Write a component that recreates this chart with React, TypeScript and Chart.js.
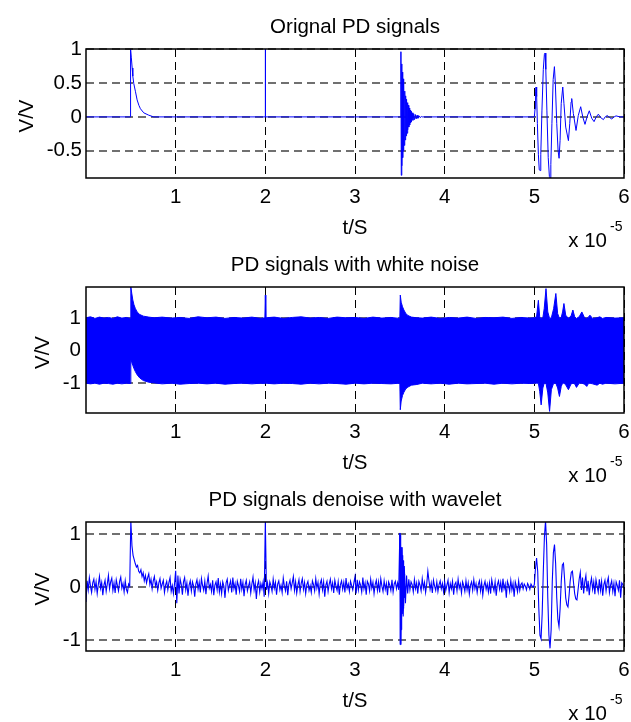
import React, { useEffect, useRef } from 'react';
import Chart from 'chart.js/auto';

// ---------- shared axis data ----------
const xTicks = [1, 2, 3, 4, 5, 6];
const xMin = 0;
const xMax = 6;

// ---------- panel 1: original PD signals [t (x1e-5 s), V] ----------
const origYTicks = [-0.5, 0, 0.5, 1];
const origYRange = [-0.9, 1.0];
const origDecay = [
  [0, 0], [0.494, 0], [0.497, 1.0], [0.505, 0.88], [0.515, 0.72], [0.522, 0.6], [0.533, 0.49],
  [0.552, 0.37], [0.57, 0.25], [0.59, 0.17], [0.607, 0.12], [0.644, 0.06], [0.7, 0.025], [0.755, 0],
];
const origSpike2 = [[1.999, 0], [2.0, 1.0], [2.002, 0]];
const origBurst35 = [
  [3.508, 0], [3.512, 0.96], [3.516, -0.86], [3.52, 0.78], [3.524, -0.72], [3.528, 0.66], [3.532, -0.6],
  [3.536, 0.56], [3.54, -0.5], [3.545, 0.46], [3.55, -0.42], [3.555, 0.38], [3.56, -0.34], [3.565, 0.31],
  [3.57, -0.28], [3.575, 0.26], [3.58, -0.24], [3.585, 0.21], [3.59, -0.19], [3.595, 0.17], [3.6, -0.15],
  [3.605, 0.13], [3.61, -0.12], [3.615, 0.1], [3.62, -0.09], [3.625, 0.08], [3.63, -0.07], [3.638, 0.06],
  [3.646, -0.05], [3.655, 0.045], [3.664, -0.04], [3.673, 0.035], [3.682, -0.03], [3.692, 0.025],
  [3.702, -0.02], [3.714, 0.015], [3.726, -0.01], [3.74, 0.005], [3.75, 0],
];
const origBurst50 = [
  [5.0, 0], [5.008, 0.12], [5.014, 0.38], [5.019, 0.44], [5.026, 0.3], [5.034, -0.1], [5.045, -0.55],
  [5.055, -0.78], [5.064, -0.79], [5.072, -0.55], [5.085, 0.1], [5.1, 0.7], [5.112, 0.92], [5.12, 0.94],
  [5.128, 0.7], [5.14, 0.1], [5.155, -0.6], [5.168, -0.88], [5.175, -0.9], [5.184, -0.7], [5.196, -0.1],
  [5.21, 0.55], [5.224, 0.74], [5.234, 0.5], [5.25, -0.1], [5.265, -0.5], [5.276, -0.61], [5.287, -0.35],
  [5.3, 0.2], [5.317, 0.44], [5.33, 0.2], [5.35, -0.15], [5.38, -0.35], [5.395, -0.1], [5.41, 0.22],
  [5.417, 0.27], [5.435, 0.05], [5.465, -0.2], [5.49, 0.02], [5.517, 0.15], [5.54, 0.0], [5.565, -0.11],
  [5.59, 0.01], [5.613, 0.09], [5.64, -0.02], [5.666, -0.07], [5.69, 0], [5.714, 0.04], [5.74, -0.01],
  [5.77, -0.04], [5.79, 0], [5.814, 0.02], [5.84, -0.01], [5.863, -0.03], [5.89, 0], [5.911, 0.015],
  [5.955, 0], [6.0, 0],
];

// ---------- panel 2: PD signals with white noise, envelope [t, upper, lower] ----------
const noisyYTicks = [-1, 0, 1];
const noisyYRange = [-1.92, 1.97];
const noisyBand = [
  [0, 1.02, -1.0], [0.05, 1.05, -1.02], [0.1, 1.0, -1.0], [0.15, 1.04, -1.03], [0.2, 1.01, -1.0],
  [0.25, 1.03, -1.01], [0.3, 1.0, -1.03], [0.35, 1.05, -1.0], [0.4, 1.01, -1.02], [0.45, 1.03, -1.0],
  [0.495, 1.0, -1.01], [0.5, 1.97, -0.28], [0.51, 1.78, -0.36], [0.522, 1.57, -0.45], [0.535, 1.42, -0.55],
  [0.55, 1.31, -0.64], [0.57, 1.2, -0.74], [0.6, 1.12, -0.84], [0.64, 1.07, -0.92], [0.7, 1.04, -0.97],
  [0.76, 1.02, -0.99], [0.85, 1.04, -1.02], [0.95, 1.01, -1.0], [1.05, 1.03, -1.03], [1.15, 1.0, -1.01],
  [1.25, 1.05, -1.0], [1.35, 1.02, -1.02], [1.45, 1.04, -1.0], [1.55, 1.0, -1.03], [1.65, 1.03, -1.01],
  [1.75, 1.01, -1.0], [1.85, 1.04, -1.02], [1.95, 1.0, -1.0], [1.995, 1.02, -1.01], [2.0, 1.72, -1.0],
  [2.005, 1.02, -1.0], [2.1, 1.04, -1.02], [2.2, 1.0, -1.0], [2.3, 1.03, -1.01], [2.4, 1.05, -1.03],
  [2.5, 1.01, -1.0], [2.6, 1.03, -1.02], [2.7, 1.0, -1.0], [2.8, 1.04, -1.01], [2.9, 1.02, -1.03],
  [3.0, 1.03, -1.0], [3.1, 1.0, -1.02], [3.2, 1.04, -1.0], [3.3, 1.01, -1.01], [3.4, 1.03, -1.02],
  [3.5, 1.0, -1.0], [3.505, 1.72, -1.82], [3.515, 1.5, -1.55], [3.53, 1.36, -1.38], [3.545, 1.26, -1.28],
  [3.565, 1.16, -1.18], [3.59, 1.09, -1.12], [3.63, 1.04, -1.06], [3.69, 1.02, -1.04], [3.75, 1.01, -1.0],
  [3.85, 1.04, -1.02], [3.95, 1.0, -1.0], [4.05, 1.03, -1.03], [4.15, 1.01, -1.0], [4.25, 1.04, -1.02],
  [4.35, 1.0, -1.01], [4.45, 1.03, -1.0], [4.55, 1.02, -1.03], [4.65, 1.04, -1.0], [4.75, 1.0, -1.02],
  [4.85, 1.03, -1.0], [4.95, 1.01, -1.01],
  [5.0, 1.02, -1.0], [5.025, 1.05, -1.0], [5.045, 1.56, -1.0], [5.06, 1.05, -1.25], [5.076, 1.0, -1.67],
  [5.095, 1.02, -1.15], [5.11, 1.3, -1.0], [5.13, 1.92, -1.0], [5.15, 1.2, -1.3], [5.17, 1.0, -1.87],
  [5.19, 1.02, -1.2], [5.215, 1.3, -1.0], [5.24, 1.77, -1.0], [5.26, 1.15, -1.15], [5.28, 1.0, -1.41],
  [5.3, 1.03, -1.1], [5.315, 1.2, -1.0], [5.33, 1.46, -1.0], [5.35, 1.1, -1.05], [5.38, 1.0, -1.2],
  [5.41, 1.08, -1.02], [5.43, 1.26, -1.0], [5.45, 1.05, -1.02], [5.47, 1.0, -1.13], [5.5, 1.05, -1.0],
  [5.53, 1.2, -1.0], [5.56, 1.02, -1.03], [5.585, 1.0, -1.1], [5.6, 1.03, -1.02], [5.62, 1.1, -1.0],
  [5.65, 1.0, -1.02], [5.7, 1.02, -1.06], [5.73, 1.05, -1.0], [5.76, 1.0, -1.03], [5.8, 1.03, -1.0],
  [5.9, 1.01, -1.02], [6.0, 1.02, -1.0],
];

// ---------- panel 3: PD signals denoised with wavelet (sampled every 0.0125) ----------
const denoiseYTicks = [-1, 0, 1];
const denoiseYRange = [-1.2, 1.226];
const denoiseStep = 0.0125;
const denoisedV = [
  // 0.0 - 0.4875
  -0.28, 0.12, -0.05, 0.18, 0.02, -0.1, 0.08, 0.15, -0.04, 0.1, -0.12, 0.05, 0.2, -0.02, 0.09, -0.15, 0.04, 0.13, -0.08, 0.06,
  0.22, -0.03, 0.1, 0.17, -0.06, 0.08, -0.11, 0.14, 0.03, -0.07, 0.11, 0.19, -0.02, 0.07, -0.09, 0.12, -0.04, -0.1, 0.06, 0.02,
  // 0.5 - 0.9875
  1.25, 0.78, 0.6, 0.52, 0.44, 0.38, 0.41, 0.3, 0.27, 0.33, 0.2, 0.27, 0.12, 0.22, 0.08, 0.18, 0.25, 0.05, 0.15, -0.03,
  0.12, 0.2, 0.02, 0.1, -0.06, 0.08, 0.16, -0.02, 0.06, 0.13, -0.1, 0.04, 0.11, -0.05, 0.09, 0.18, -0.08, 0.03, -0.12, 0.07,
  // 1.0 - 1.4875
  0.31, -0.3, 0.22, -0.12, 0.15, 0.05, -0.14, 0.1, 0.18, -0.05, 0.08, -0.16, 0.04, 0.12, -0.07, 0.1, 0.02, -0.18, 0.06, 0.14,
  -0.04, 0.09, -0.1, 0.16, 0.03, -0.06, 0.11, -0.13, 0.07, 0.21, -0.02, 0.05, -0.08, 0.13, -0.15, 0.04, 0.1, -0.05, 0.17, -0.09,
  // 1.5 - 1.9875
  0.06, -0.12, 0.1, 0.02, -0.2, 0.08, 0.15, -0.06, 0.04, 0.12, -0.1, 0.18, -0.03, 0.07, -0.14, 0.11, 0.03, -0.08, 0.16, -0.04,
  0.09, -0.17, 0.05, 0.13, -0.07, 0.02, 0.1, -0.11, 0.06, 0.19, -0.05, 0.08, -0.22, 0.04, 0.12, -0.09, 0.07, -0.03, 0.1, -0.18,
  // 2.0 - 2.4875
  1.25, -0.05, 0.08, -0.12, 0.1, 0.03, -0.08, 0.15, -0.02, 0.09, -0.14, 0.06, 0.12, -0.05, 0.04, -0.1, 0.17, 0.02, -0.07, 0.11,
  -0.15, 0.05, 0.13, -0.03, 0.08, 0.2, -0.06, 0.1, -0.11, 0.04, 0.14, -0.08, 0.07, 0.16, -0.04, 0.09, -0.12, 0.05, 0.11, -0.06,
  // 2.5 - 2.9875
  0.03, -0.1, 0.12, 0.05, -0.07, 0.16, -0.02, 0.09, -0.13, 0.07, 0.14, -0.05, 0.1, -0.18, 0.04, 0.11, -0.08, 0.06, 0.15, -0.03,
  0.08, -0.11, 0.13, 0.02, -0.06, 0.1, -0.14, 0.05, 0.12, -0.04, 0.09, -0.1, 0.17, -0.02, 0.06, -0.08, 0.11, 0.03, -0.05, 0.08,
  // 3.0 - 3.4875
  0.2, -0.12, 0.14, -0.05, 0.1, 0.04, -0.09, 0.18, -0.03, 0.08, -0.14, 0.11, 0.06, -0.07, 0.15, -0.02, 0.09, -0.12, 0.05, 0.13,
  -0.06, 0.1, -0.1, 0.16, 0.02, -0.08, 0.12, -0.04, 0.07, -0.15, 0.1, 0.04, -0.06, 0.14, -0.09, 0.06, 0.11, -0.03, 0.08, -0.05,
  // 3.5 - 3.9875
  1.02, -1.08, 0.75, -0.55, 0.4, -0.3, 0.22, -0.12, 0.15, -0.05, 0.1, 0.05, -0.09, 0.14, -0.03, 0.08, -0.12, 0.11, 0.04, -0.07,
  0.16, -0.02, 0.09, -0.1, 0.06, 0.3, 0.12, -0.04, 0.08, -0.11, 0.13, 0.02, -0.06, 0.1, -0.08, 0.05, 0.12, -0.03, 0.07, -0.09,
  // 4.0 - 4.4875
  0.1, -0.06, 0.04, 0.13, -0.1, 0.07, -0.03, 0.11, -0.14, 0.05, 0.09, -0.07, 0.15, -0.02, 0.06, -0.11, 0.1, 0.03, -0.08, 0.12,
  -0.05, 0.08, -0.13, 0.04, 0.1, -0.06, 0.14, -0.03, 0.07, -0.1, 0.05, 0.12, -0.07, 0.09, -0.15, 0.03, 0.11, -0.04, 0.06, -0.09,
  // 4.5 - 4.9875
  0.08, -0.12, 0.14, 0.02, -0.07, 0.1, -0.16, 0.05, 0.12, -0.04, 0.09, -0.1, 0.16, -0.03, 0.06, -0.2, 0.11, 0.04, -0.08, 0.13,
  -0.05, 0.07, -0.18, 0.1, 0.02, -0.09, 0.12, -0.06, 0.05, 0.08, -0.03, 0.06, 0.02, -0.05, 0.07, 0.03, -0.04, 0.06, 0.02, 0.0,
  // 5.0 - 5.4875
  0.05, 0.35, 0.55, 0.3, -0.4, -0.9, -0.97, -0.5, 0.3, 0.95, 1.25, 0.8, -0.2, -0.9, -1.15, -0.8, 0.1, 0.65, 0.8, 0.45,
  -0.2, -0.6, -0.74, -0.4, 0.1, 0.42, 0.45, 0.15, -0.2, -0.33, -0.37, -0.15, 0.12, 0.28, 0.3, 0.08, -0.12, -0.22, -0.24, -0.05,
  // 5.5 - 6.0
  0.15, 0.28, -0.05, 0.18, -0.12, 0.1, 0.22, -0.08, 0.12, -0.15, 0.06, 0.17, -0.04, 0.1, -0.13, 0.14, 0.02, -0.09, 0.15, -0.06,
  0.11, -0.16, 0.05, 0.13, -0.07, 0.09, 0.18, -0.1, 0.04, 0.12, -0.08, 0.07, -0.17, 0.1, 0.03, -0.06, 0.13, -0.2, 0.08, 0.05,
  -0.02,
];
// finer detail of the burst at 3.5 in the denoised trace [t, V]
const denoiseBurst35 = [
  [3.499, 0.0], [3.501, 1.02], [3.503, -1.08], [3.505, 0.98], [3.507, -1.05], [3.509, 0.9], [3.511, -0.95],
  [3.513, 0.85], [3.515, -0.8], [3.518, 0.75], [3.521, -0.6], [3.524, 0.7], [3.527, -0.5], [3.53, 0.6],
  [3.533, -0.45], [3.536, 0.5], [3.539, -0.4], [3.542, 0.4], [3.545, -0.35], [3.548, 0.25], [3.551, -0.2],
  [3.555, 0.1],
];

// ---------- styling ----------
const FONT_FAMILY = "'Liberation Sans', Arial, Helvetica, sans-serif";
const FONT_SIZE = 20.5;
const BLUE = '#0000ff';

type Pt = { x: number; y: number };
const toPts = (rows: number[][]): Pt[] => rows.map((r) => ({ x: r[0], y: r[1] }));

const framePlugin = {
  id: 'frameBox',
  afterDraw(chart: any) {
    const { ctx, chartArea: a } = chart;
    ctx.save();
    ctx.setLineDash([]);
    ctx.lineWidth = 1.5;
    ctx.strokeStyle = '#000';
    ctx.strokeRect(a.left, a.top, a.right - a.left, a.bottom - a.top);
    ctx.restore();
  },
};

function makeTextPlugin(title: string, ylabelX: number) {
  return {
    id: 'panelText',
    afterDraw(chart: any) {
      const { ctx, chartArea: a } = chart;
      const cx = (a.left + a.right) / 2;
      ctx.save();
      ctx.fillStyle = '#000';
      ctx.textBaseline = 'alphabetic';
      ctx.font = `${FONT_SIZE}px ${FONT_FAMILY}`;
      ctx.textAlign = 'center';
      ctx.fillText(title, cx, a.top - 16);
      ctx.fillText('t/S', cx, a.bottom + 55.5);
      ctx.textAlign = 'right';
      ctx.fillText('x 10', 607, a.bottom + 69);
      ctx.font = `14px ${FONT_FAMILY}`;
      ctx.textAlign = 'left';
      ctx.fillText('-5', 610, a.bottom + 52.5);
      ctx.font = `${FONT_SIZE}px ${FONT_FAMILY}`;
      ctx.translate(ylabelX, (a.top + a.bottom) / 2 + 2.5);
      ctx.rotate(-Math.PI / 2);
      ctx.textAlign = 'center';
      ctx.fillText('V/V', 0, 0);
      ctx.restore();
    },
  };
}

type PanelSpec = {
  top: number;
  height: number;
  padTop: number;
  xAxisH: number;
  yRange: number[];
  yTicks: number[];
  yPad: number;
  title: string;
  ylabelX: number;
  datasets: any[];
};

function Panel({ spec }: { spec: PanelSpec }) {
  const ref = useRef<HTMLCanvasElement | null>(null);
  useEffect(() => {
    if (!ref.current) return;
    const font = { family: FONT_FAMILY, size: FONT_SIZE };
    const chart = new Chart(ref.current, {
      type: 'line',
      data: { datasets: spec.datasets },
      options: {
        animation: false,
        responsive: false,
        devicePixelRatio: 1,
        events: [],
        layout: { padding: { left: 0, right: 7, top: spec.padTop, bottom: 0 } },
        plugins: { legend: { display: false }, title: { display: false }, tooltip: { enabled: false } },
        elements: { point: { radius: 0 }, line: { tension: 0 } },
        scales: {
          x: {
            type: 'linear',
            min: xMin,
            max: xMax,
            afterBuildTicks: (s: any) => {
              s.ticks = xTicks.map((v) => ({ value: v }));
            },
            afterFit: (s: any) => {
              s.height = spec.xAxisH;
              s.paddingLeft = 0;
              s.paddingRight = 0;
            },
            grid: { color: '#000', lineWidth: 1, drawTicks: false },
            border: { display: false, dash: [8, 5] },
            ticks: {
              font,
              color: '#000',
              padding: 7,
              maxRotation: 0,
              minRotation: 0,
              autoSkip: false,
              callback: (v: any) => String(v),
            },
          },
          y: {
            type: 'linear',
            min: spec.yRange[0],
            max: spec.yRange[1],
            afterBuildTicks: (s: any) => {
              s.ticks = spec.yTicks.map((v) => ({ value: v }));
            },
            afterFit: (s: any) => {
              s.width = 86;
              s.paddingTop = 0;
              s.paddingBottom = 0;
            },
            grid: { color: '#707070', lineWidth: 2, drawTicks: false },
            border: { display: false, dash: [8, 5] },
            ticks: {
              font,
              color: '#000',
              padding: spec.yPad,
              autoSkip: false,
              callback: (v: any) => String(v),
            },
          },
        },
      } as any,
      plugins: [framePlugin, makeTextPlugin(spec.title, spec.ylabelX)],
    });
    return () => chart.destroy();
  }, [spec]);
  return (
    <canvas
      ref={ref}
      width={631}
      height={spec.height}
      style={{ position: 'absolute', left: 0, top: spec.top, width: 631, height: spec.height }}
    />
  );
}

const lineDs = (data: Pt[], extra: any = {}) => ({
  data,
  borderColor: BLUE,
  backgroundColor: BLUE,
  borderWidth: 1,
  pointRadius: 0,
  fill: false,
  tension: 0,
  ...extra,
});

const panels: PanelSpec[] = [
  {
    top: 0,
    height: 250,
    padTop: 49,
    xAxisH: 72,
    yRange: origYRange,
    yTicks: origYTicks,
    yPad: 4,
    title: 'Orignal PD signals',
    ylabelX: 33,
    datasets: [lineDs(toPts([...origDecay, ...origSpike2, ...origBurst35, ...origBurst50]))],
  },
  {
    top: 250,
    height: 240,
    padTop: 37,
    xAxisH: 77,
    yRange: noisyYRange,
    yTicks: noisyYTicks,
    yPad: 5,
    title: 'PD signals with white noise',
    ylabelX: 49,
    datasets: [
      lineDs(noisyBand.map((r) => ({ x: r[0], y: r[1] })), { fill: '+1' }),
      lineDs(noisyBand.map((r) => ({ x: r[0], y: r[2] }))),
    ],
  },
  {
    top: 490,
    height: 232,
    padTop: 32,
    xAxisH: 71,
    yRange: denoiseYRange,
    yTicks: denoiseYTicks,
    yPad: 5,
    title: 'PD signals denoise with wavelet',
    ylabelX: 49,
    datasets: [
      lineDs(denoisedV.map((v, i) => ({ x: i * denoiseStep, y: v })), { borderWidth: 1.1 }),
      lineDs(toPts(denoiseBurst35)),
    ],
  },
];

export default function App() {
  return (
    <div style={{ position: 'absolute', left: 0, top: 0, width: 631, height: 722, background: '#fff' }}>
      {panels.map((p, i) => (
        <Panel key={i} spec={p} />
      ))}
    </div>
  );
}
